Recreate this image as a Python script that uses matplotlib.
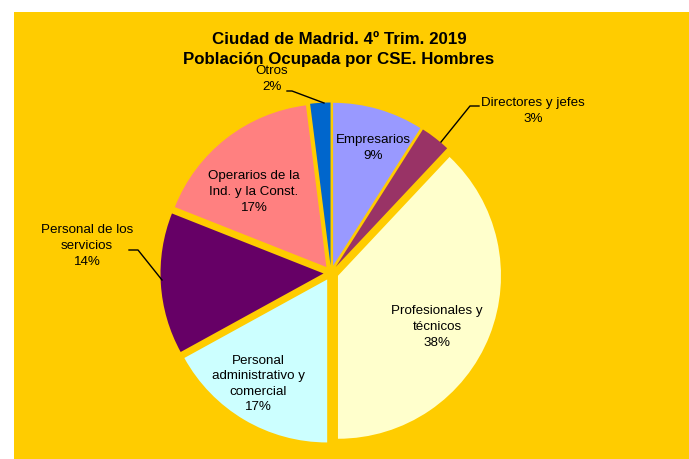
import matplotlib
matplotlib.use('Agg')
import matplotlib.pyplot as plt
from matplotlib.patches import Rectangle

# ---- data ----
categories = ["Empresarios", "Directores y jefes", "Profesionales y\ntécnicos",
              "Personal\nadministrativo y\ncomercial", "Personal de los\nservicios",
              "Operarios de la\nInd. y la Const.", "Otros"]
values = [9, 3, 38, 17, 14, 17, 2]
colors = ["#9999FF", "#993366", "#FFFFCC", "#CCFFFF", "#660066", "#FF8080", "#0066CC"]
title_lines = ["Ciudad de Madrid. 4º Trim. 2019", "Población Ocupada por CSE. Hombres"]

# ---- layout (pixel coords, y measured from top) ----
W, H = 689, 459
label_pos = [(373, 148), (533, 111), (437, 327), (258, 384), (87, 246), (254, 192), (272, 79)]
leaders = {1: [(441, 142), (470, 106), (479, 106)],
           4: [(162, 280), (138, 250), (129, 250)],
           6: [(324, 103), (292, 91), (287, 91)]}

plt.rcParams['font.family'] = ['Liberation Sans', 'DejaVu Sans']

fig = plt.figure(figsize=(W / 100, H / 100), dpi=100)
fig.patch.set_facecolor('white')

ax = fig.add_axes([0, 0, 1, 1])
ax.set_facecolor('none')
ax.add_patch(Rectangle((14, 0), W - 14, H - 12, facecolor='#FFCC00',
                       edgecolor='none', zorder=0))
ax.pie(values, colors=colors, startangle=90, counterclock=False,
       radius=163, center=(331, H - 273), explode=[7.5] * len(values),
       wedgeprops=dict(linewidth=0, zorder=2))
ax.set_xlim(0, W)
ax.set_ylim(0, H)
ax.set_aspect('auto')
ax.axis('off')

for i, (cat, v) in enumerate(zip(categories, values)):
    x, y = label_pos[i]
    ax.text(x, H - y, f"{cat}\n{v}%", ha='center', va='center', fontsize=9.6,
            color='black', linespacing=1.4, zorder=5)

for i, pts in leaders.items():
    xs = [p[0] for p in pts]
    ys = [H - p[1] for p in pts]
    ax.plot(xs, ys, color='black', lw=1.0, zorder=4)

for line, yb in zip(title_lines, [44, 64]):
    ax.text(339, H - yb, line, ha='center', va='baseline',
            fontsize=12.2, fontweight='bold', zorder=5)

fig.savefig('out.png', dpi=100)
